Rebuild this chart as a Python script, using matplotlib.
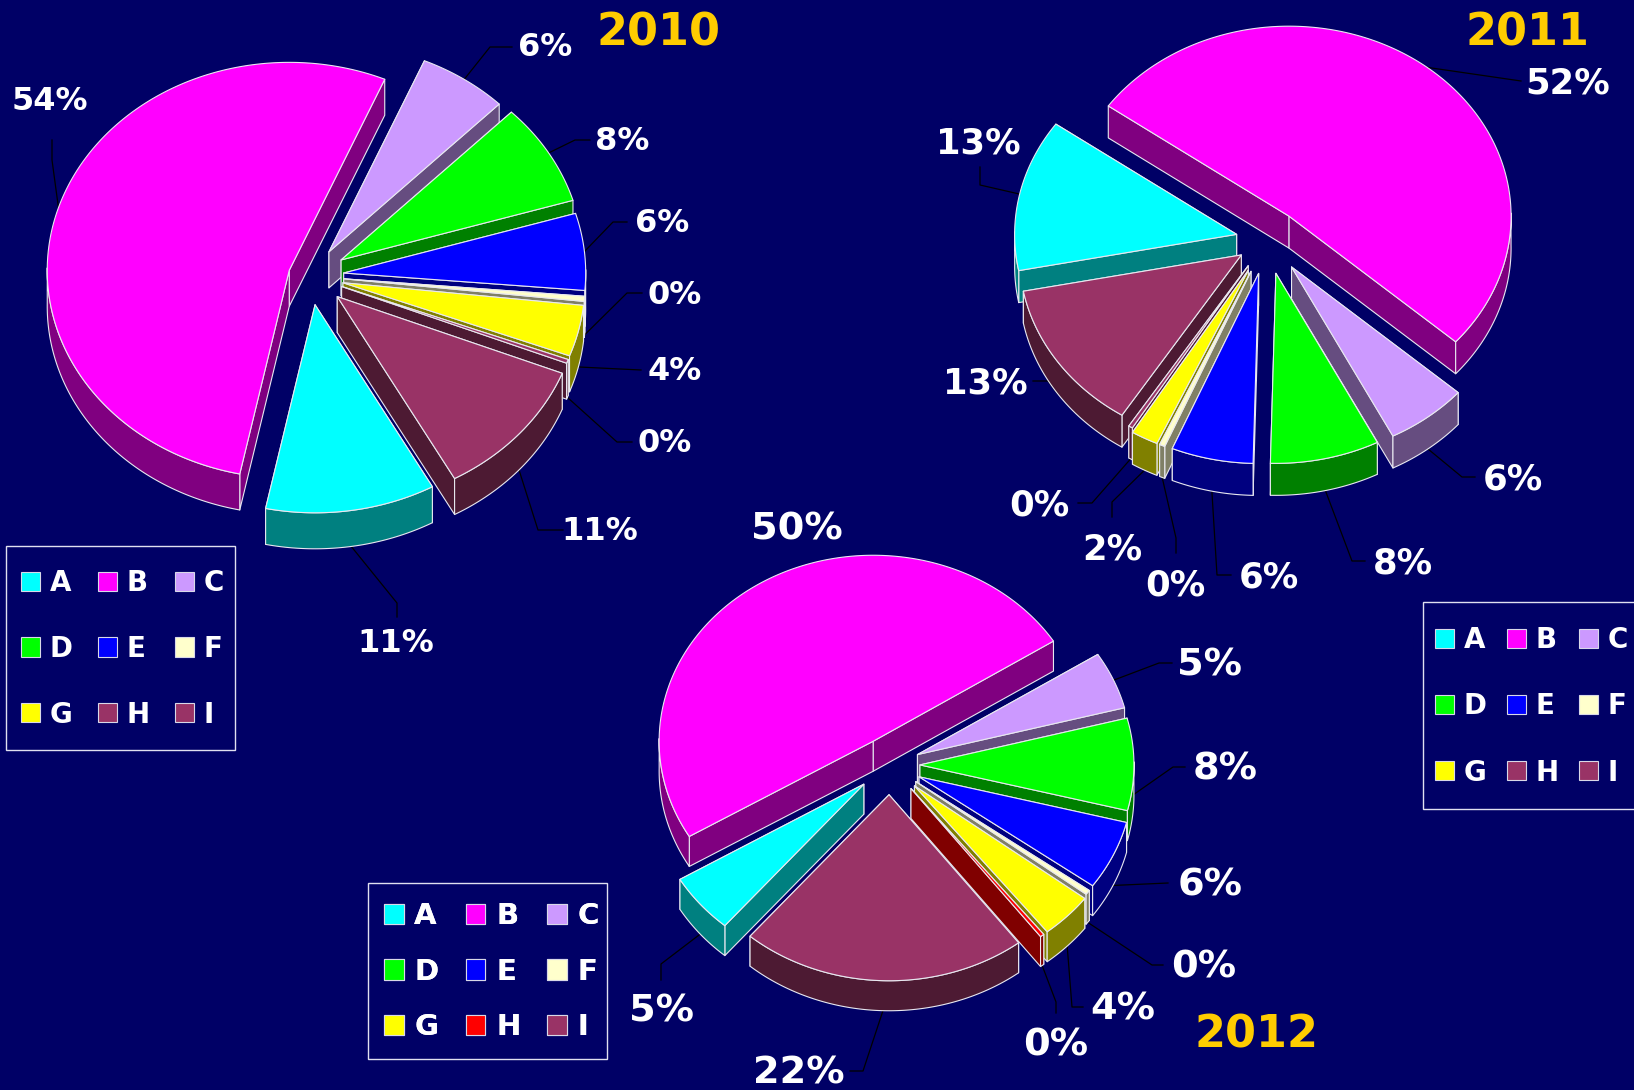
import numpy as np
import matplotlib
matplotlib.use('Agg')
import matplotlib.pyplot as plt
from matplotlib.patches import Polygon, Patch, Rectangle

plt.rcParams['font.family'] = ['DejaVu Sans']
plt.rcParams['font.weight'] = 'bold'

categories = ['A', 'B', 'C', 'D', 'E', 'F', 'G', 'H', 'I']

# F and H are slivers that round to 0%
values_2010 = [11.4, 53.5, 6, 8, 6, 0.4, 4, 0.3, 11]
values_2011 = [13, 52, 6, 8, 6, 0.4, 2, 0.3, 13]
values_2012 = [5.2, 49.5, 5, 8, 6, 0.4, 4, 0.3, 21.6]

BG = '#000066'
TOP = ['#00FFFF', '#FF00FF', '#CC99FF', '#00FF00', '#0000FF', '#FFFFCC', '#FFFF00', '#993366', '#993366']
SIDE = ['#008080', '#800080', '#664D80', '#008000', '#000080', '#808066', '#808000', '#4D1A33', '#4D1A33']
TOP_2012 = TOP[:7] + ['#FF0000', '#993366']
SIDE_2012 = SIDE[:7] + ['#800000', '#4D1A33']

fig = plt.figure(figsize=(16.34, 10.90), dpi=100, facecolor=BG)
ax = fig.add_axes([0, 0, 1, 1])
ax.set_xlim(0, 1634)
ax.set_ylim(1090, 0)
ax.axis('off')


def rim(cx, cy, rx, ry, deg):
    a = np.radians(deg)
    return cx + rx * np.cos(a), cy - ry * np.sin(a)


def draw_pie(values, top, side, cx, cy, rx, ry, depth, start, explode, labels, fs):
    values = np.array(values, dtype=float)
    sweep = values / values.sum() * 360
    ends = start - np.cumsum(sweep)
    begins = ends + sweep
    mids = (begins + ends) / 2

    slices = []
    for i in range(len(values)):
        tx = cx + explode[i] * rx * np.cos(np.radians(mids[i]))
        ty = cy - explode[i] * ry * np.sin(np.radians(mids[i]))
        slices.append((ty + 0.6 * ry * -np.sin(np.radians(mids[i])), i, tx, ty))

        # leader line and label
        lx, ly, pts = labels[i]
        ax_, ay_ = rim(tx, ty, rx, ry, mids[i])
        if np.sin(np.radians(mids[i])) < 0.05:
            ay_ += depth
        if pts is not None:
            xs = [ax_] + [p[0] for p in pts]
            ys = [ay_] + [p[1] for p in pts]
            ax.plot(xs, ys, color='black', lw=0.9, zorder=1)
        ax.text(lx, ly, f'{values[i]:.0f}%', color='white', fontsize=fs, ha='center', va='center', zorder=50)

    for key, i, tx, ty in sorted(slices):
        n = max(int(sweep[i]) * 2, 3)
        th = np.linspace(begins[i], ends[i], n)
        ox, oy = rim(tx, ty, rx, ry, th)
        z = 5 + key / 1000
        kw = dict(edgecolor='#E8E8F0', linewidth=0.8, joinstyle='round', zorder=z)
        # cut faces back one first, then the front part of the wall, then the top
        for k in sorted((0, -1), key=lambda k: oy[k]):
            ax.add_patch(Polygon([(tx, ty), (ox[k], oy[k]), (ox[k], oy[k] + depth), (tx, ty + depth)],
                                 facecolor=side[i], **kw))
        front = np.sin(np.radians(th)) < 0.02
        if front.sum() > 1:
            wall = np.r_[np.c_[ox[front], oy[front]], np.c_[ox[front], oy[front] + depth][::-1]]
            ax.add_patch(Polygon(wall, facecolor=side[i], **kw))
        ax.add_patch(Polygon(np.r_[[[tx, ty]], np.c_[ox, oy]], facecolor=top[i], **kw))


labels_2010 = [
    (396, 644, [(397, 603), (397, 617)]),
    (50, 102, [(52, 160), (52, 140)]),
    (545, 47, [(490, 47), (512, 47)]),
    (622, 141, [(575, 140), (590, 140)]),
    (662, 223, [(613, 222), (627, 222)]),
    (675, 295, [(627, 293), (642, 293)]),
    (675, 372, [(641, 370)]),
    (665, 443, [(617, 442), (632, 442)]),
    (600, 531, [(538, 530), (563, 530)]),
]
labels_2011 = [
    (978, 144, [(980, 185), (980, 167)]),
    (1568, 83, [(1521, 81)]),
    (1513, 479, [(1462, 477), (1475, 477)]),
    (1403, 564, [(1352, 561), (1365, 561)]),
    (1269, 577, [(1217, 575), (1231, 575)]),
    (1175, 586, [(1176, 538), (1176, 553)]),
    (1112, 550, [(1112, 502), (1112, 517)]),
    (1039, 505, [(1092, 503), (1078, 503)]),
    (985, 383, [(1048, 381), (1033, 381)]),
]
labels_2012 = [
    (662, 1011, [(661, 964), (661, 980)]),
    (797, 529, None),
    (1210, 665, [(1159, 663), (1172, 663)]),
    (1225, 769, [(1173, 767), (1185, 767)]),
    (1210, 885, [(1168, 883)]),
    (1204, 967, [(1152, 965), (1163, 965)]),
    (1123, 1010, [(1072, 1007), (1083, 1007)]),
    (1056, 1046, [(1056, 1002), (1056, 1013)]),
    (799, 1073, [(863, 1071), (850, 1071)]),
]

draw_pie(values_2010, TOP, SIDE, 310, 276, 242, 208, 36, 299,
         [.14, .09, .14, .15, .14, .14, .14, .14, .15], labels_2010, 23)
draw_pie(values_2011, TOP, SIDE, 1267, 240, 222, 190, 32, 191,
         [.14, .16, .18, .18, .18, .18, .18, .16, .14], labels_2011, 25.5)
draw_pie(values_2012, TOP_2012, SIDE_2012, 890, 765, 214, 186, 30, 229.5,
         [.16, .15, .14, .14, .15, .15, .16, .16, .16], labels_2012, 27.5)

ax.text(659, 33, '2010', color='#FFCC00', fontsize=32, ha='center', va='center', zorder=50)
ax.text(1528, 33, '2011', color='#FFCC00', fontsize=32, ha='center', va='center', zorder=50)
ax.text(1257, 1035, '2012', color='#FFCC00', fontsize=32, ha='center', va='center', zorder=50)


def draw_legend(top, box, x, y, fs, labelspacing, columnspacing):
    ax.add_patch(Rectangle((box[0], box[1]), box[2] - box[0], box[3] - box[1], facecolor=BG,
                           edgecolor='#E0E0F0', linewidth=1.0, zorder=39))
    order = [0, 3, 6, 1, 4, 7, 2, 5, 8]
    handles = [Patch(facecolor=top[i], edgecolor='#D8D8E8', linewidth=0.8, label=categories[i]) for i in order]
    leg = ax.legend(handles=handles, ncol=3, loc='upper left', bbox_to_anchor=(x, y), bbox_transform=ax.transData,
                    fontsize=fs, frameon=False, labelcolor='white', handlelength=0.68, handleheight=0.68,
                    handletextpad=0.36, labelspacing=labelspacing, columnspacing=columnspacing,
                    borderpad=0, borderaxespad=0)
    leg.set_zorder(40)
    ax.add_artist(leg)


draw_legend(TOP, (6, 546, 235, 750), 21, 569, 20, 1.36, 0.9)
draw_legend(TOP, (1423, 602, 1640, 809), 1435, 626, 20, 1.38, 0.72)
draw_legend(TOP_2012, (368, 883, 607, 1059), 384, 902, 21, 0.95, 0.93)

fig.savefig('out.png', dpi=100, facecolor=BG)
